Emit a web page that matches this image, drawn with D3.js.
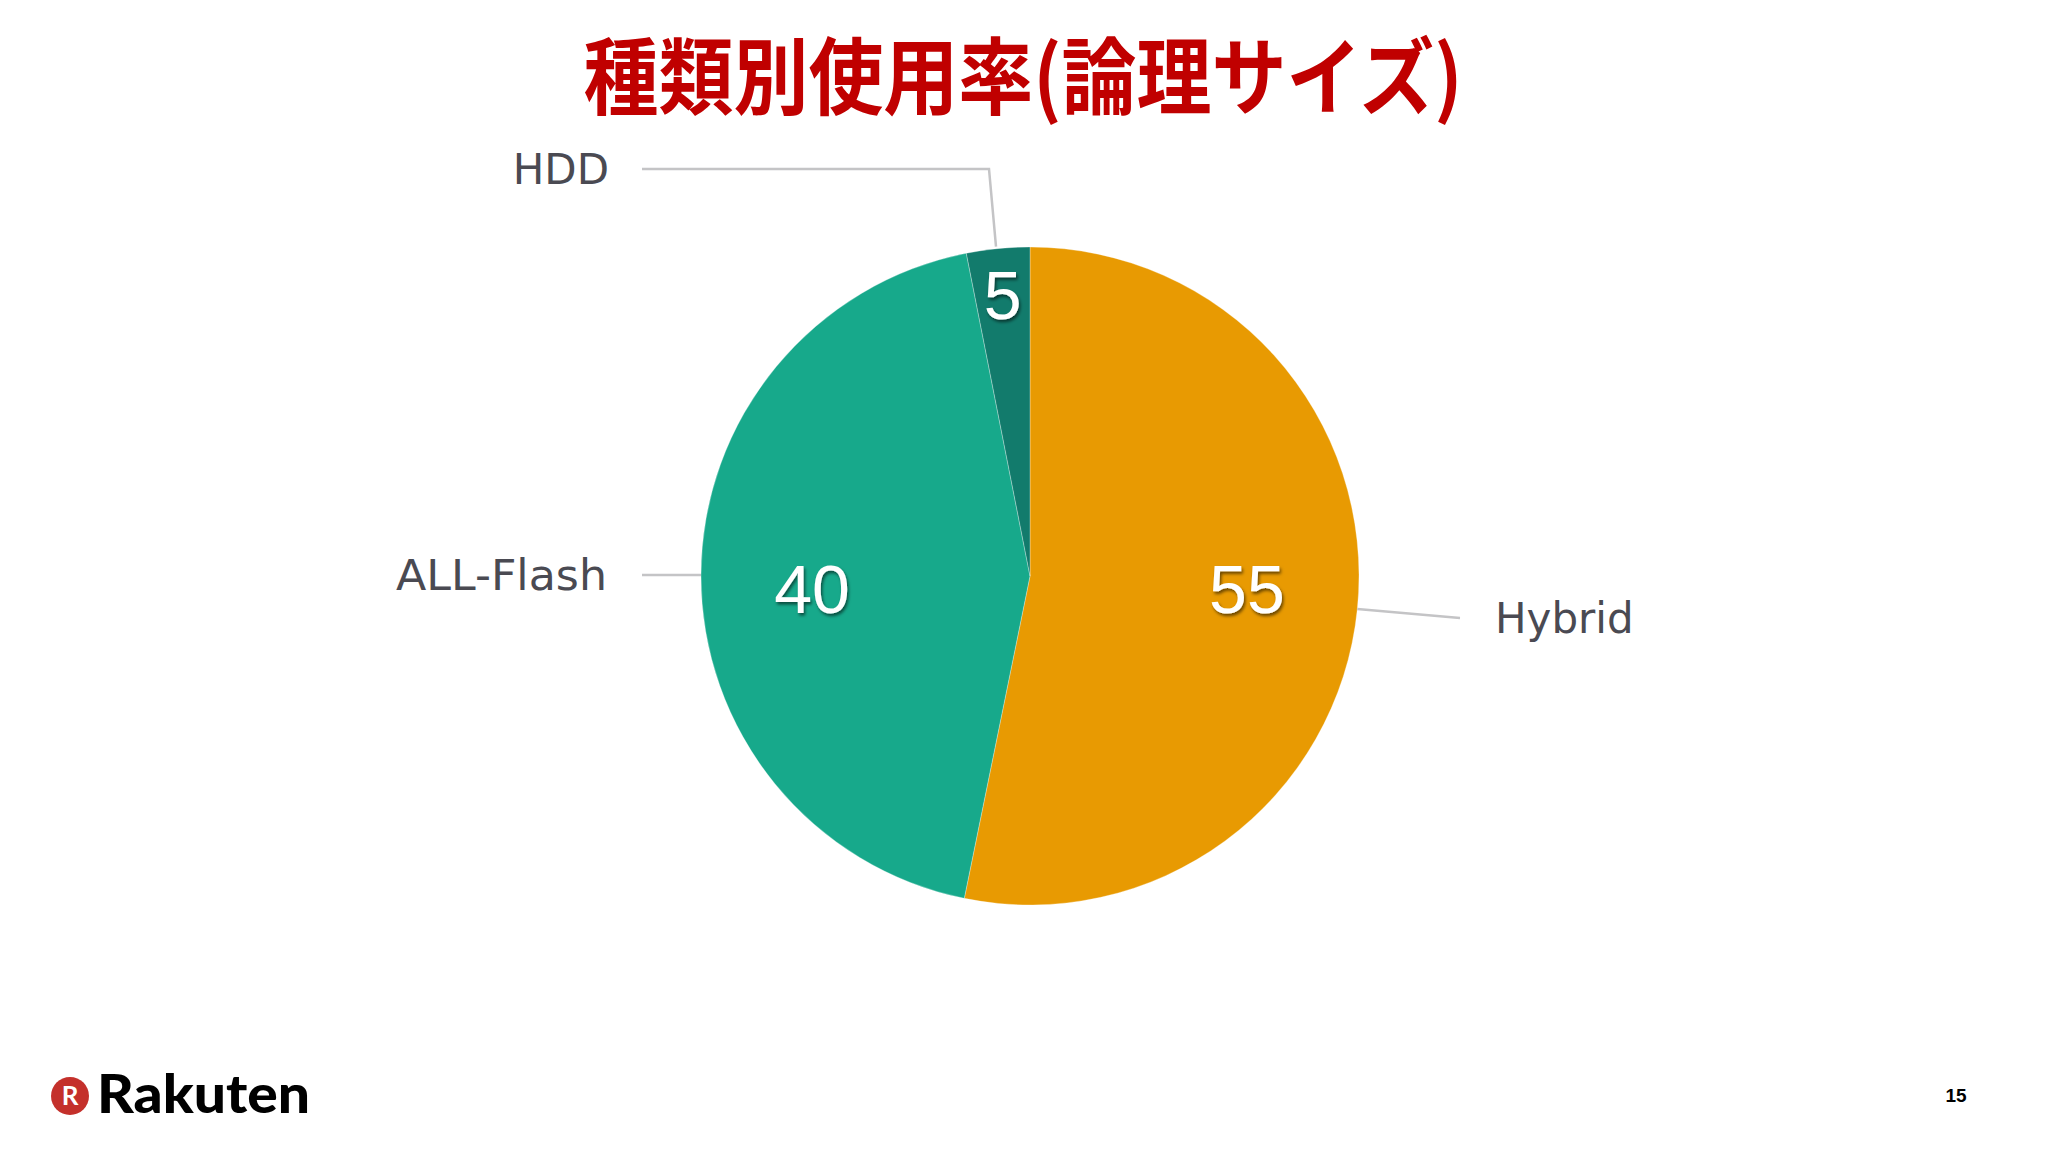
<!DOCTYPE html>
<html><head><meta charset="utf-8">
<script src="https://cdn.jsdelivr.net/npm/d3@7/dist/d3.min.js"></script>
<style>html,body{margin:0;padding:0;background:#fff;}svg{display:block;}</style>
</head><body>
<svg id="c" width="2048" height="1152"></svg>
<script>
const title = "種類別使用率(論理サイズ)";
const categories = ["Hybrid", "ALL-Flash", "HDD"];
const sliceValues = [53.2, 43.7, 3.1];      // angular shares
const valueLabels = ["55", "40", "5"];       // numbers printed on the slices
const colors = ["#E89A02", "#17A98B", "#127B6C"];
const pageNumber = "15";

const svg = d3.select("#c");
svg.append("rect").attr("width", 2048).attr("height", 1152).attr("fill", "#ffffff");

const defs = svg.append("defs");
const f = defs.append("filter").attr("id", "sh").attr("x", "-20%").attr("y", "-20%").attr("width", "140%").attr("height", "140%");
f.append("feDropShadow").attr("dx", 1.5).attr("dy", 2.5).attr("stdDeviation", 1.5).attr("flood-color", "#000").attr("flood-opacity", 0.55);

// Title
svg.append("text").attr("x", 1023).attr("y", 108)
  .attr("text-anchor", "middle")
  .attr("font-family", "'Noto Sans CJK JP', sans-serif").attr("font-weight", 700)
  .attr("font-size", 84).attr("fill", "#C00000")
  .attr("textLength", 879).attr("lengthAdjust", "spacingAndGlyphs")
  .text(title);

const cx = 1030, cy = 576, R = 329;
const g = svg.append("g").attr("transform", `translate(${cx},${cy})`);
const pie = d3.pie().sort(null).value(d => d.v);
const data = categories.map((c, i) => ({name: c, v: sliceValues[i], lab: valueLabels[i], col: colors[i]}));
const arcs = pie(data);
const arc = d3.arc().innerRadius(0).outerRadius(R);

g.selectAll("path.s").data(arcs).enter().append("path")
  .attr("d", arc).attr("fill", d => d.data.col)
  .attr("stroke", "#ffffff").attr("stroke-width", 0.6).attr("stroke-opacity", 0.5);

// value labels
g.selectAll("text.v").data(arcs).enter().append("text")
  .each(function(d) {
    const a = (d.startAngle + d.endAngle) / 2;
    const frac = (d.endAngle - d.startAngle) / (2 * Math.PI);
    const r = frac < 0.1 ? 282 : 218;
    const x = r * Math.sin(a), y = -r * Math.cos(a);
    d3.select(this).attr("x", x).attr("y", (frac < 0.1 ? y : 13) + 24);
  })
  .attr("text-anchor", "middle")
  .attr("font-family", "'Liberation Sans', Arial, sans-serif")
  .attr("font-size", 68).attr("fill", "#ffffff")
  .attr("filter", "url(#sh)")
  .text(d => d.data.lab);

// leader lines and category labels
const lineCol = "#c4c4c6";
const labelFont = "'DejaVu Sans', Verdana, sans-serif";
arcs.forEach(d => {
  const a = (d.startAngle + d.endAngle) / 2;
  const ex = cx + R * Math.sin(a), ey = cy - R * Math.cos(a);
  let pts, tx, ty, anchor;
  if (d.data.name === "HDD") {
    pts = [[ex - 2, ey - 2], [989, 169], [642, 169]];
    tx = 609; ty = 169; anchor = "end";
  } else if (d.data.name === "ALL-Flash") {
    pts = [[ex, ey], [642, ey]];
    tx = 607; ty = ey; anchor = "end";
  } else {
    pts = [[ex, ey], [1460, 618]];
    tx = 1495; ty = 618; anchor = "start";
  }
  svg.append("path").attr("d", d3.line()(pts)).attr("fill", "none")
    .attr("stroke", lineCol).attr("stroke-width", 2.5);
  const t = svg.append("text").attr("x", tx).attr("y", ty + 15)
    .attr("text-anchor", anchor)
    .attr("font-family", labelFont).attr("font-size", 42).attr("fill", "#4a4a52")
    .text(d.data.name);
  if (d.data.name === "ALL-Flash") t.attr("textLength", 211).attr("lengthAdjust", "spacingAndGlyphs");
});

// Rakuten logo
svg.append("circle").attr("cx", 70).attr("cy", 1096).attr("r", 19).attr("fill", "#C4302B");
svg.append("text").attr("x", 70).attr("y", 1105).attr("text-anchor", "middle")
  .attr("font-family", "Lato, sans-serif").attr("font-weight", 700).attr("font-size", 26).attr("fill", "#fff").text("R");
svg.append("text").attr("x", 97).attr("y", 1113)
  .attr("font-family", "Lato, sans-serif").attr("font-weight", 900).attr("font-size", 53).attr("fill", "#000")
  .attr("textLength", 213).attr("lengthAdjust", "spacingAndGlyphs").text("Rakuten");

// page number
svg.append("text").attr("x", 1956).attr("y", 1102).attr("text-anchor", "middle")
  .attr("font-family", "'Liberation Sans', Arial, sans-serif").attr("font-weight", 700).attr("font-size", 19).attr("fill", "#000")
  .text(pageNumber);
</script>
</body></html>
